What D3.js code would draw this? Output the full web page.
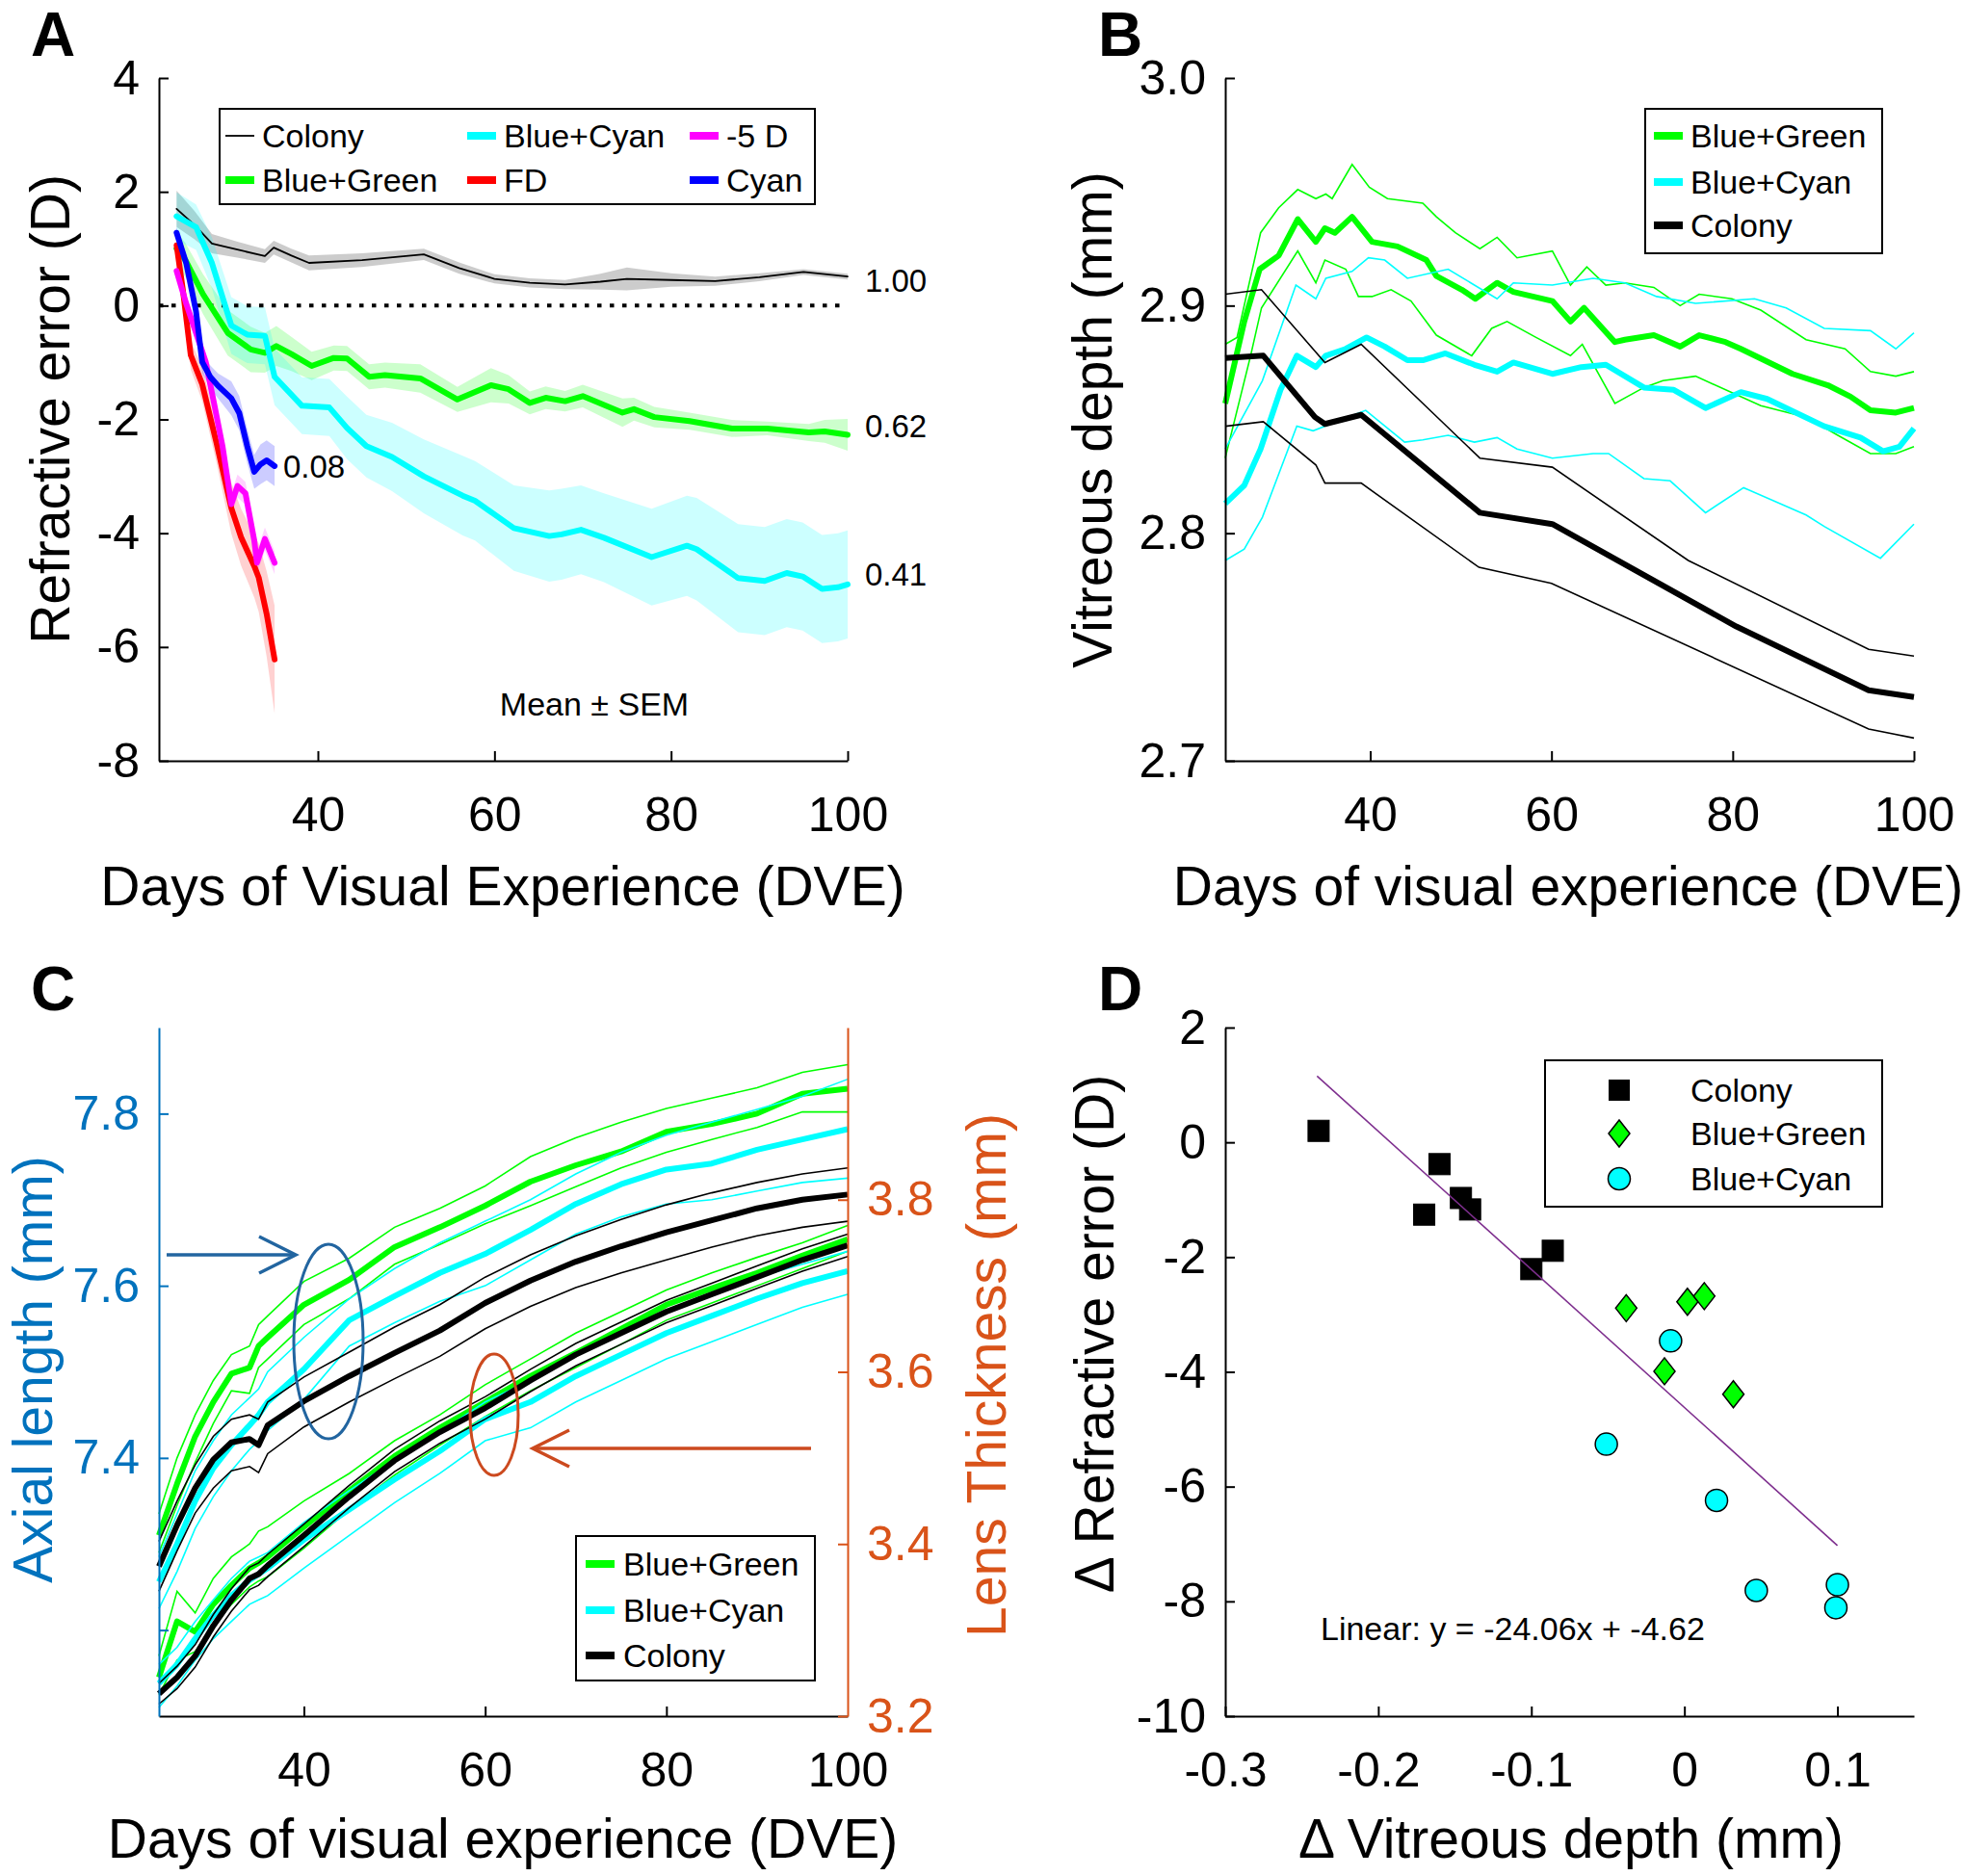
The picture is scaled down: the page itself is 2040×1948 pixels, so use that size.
<!DOCTYPE html>
<html><head><meta charset="utf-8">
<script src="https://cdn.jsdelivr.net/npm/d3@7"></script>
<style>body{margin:0;background:#fff}</style>
</head><body>
<script>
// ---------------- Panel A data (refractive error, D) ----------------
const aColonyDays = [24, 26, 28, 31, 34, 35, 37, 39, 45, 52, 56, 60, 64, 68, 72, 75, 80, 85, 90, 95, 100];
const aColonyMean = [1.70, 1.42, 1.09, 0.98, 0.87, 1.02, 0.88, 0.75, 0.80, 0.90, 0.66, 0.47, 0.40, 0.37, 0.42, 0.47, 0.45, 0.43, 0.50, 0.59, 0.51];
const aColonySem  = [0.32, 0.25, 0.17, 0.14, 0.12, 0.12, 0.12, 0.13, 0.12, 0.10, 0.10, 0.08, 0.08, 0.08, 0.14, 0.20, 0.12, 0.08, 0.07, 0.05, 0.05];

const aGreenDays = [24, 25, 27, 29.8, 32.4, 34, 35.3, 37, 39.3, 41.8, 43.3, 45.8, 47.6, 51.6, 55.8, 59.6, 61.6, 64, 65.8, 68, 70, 74.5, 75.8, 78.1, 82.1, 86.9, 90.9, 95.6, 97.4, 100];
const aGreenMean = [1.0, 0.80, 0.2, -0.48, -0.77, -0.83, -0.71, -0.85, -1.06, -0.92, -0.93, -1.25, -1.22, -1.28, -1.65, -1.40, -1.47, -1.71, -1.62, -1.68, -1.59, -1.88, -1.82, -1.96, -2.03, -2.16, -2.16, -2.23, -2.21, -2.27];
const aGreenSem  = [0.3, 0.3, 0.35, 0.4, 0.4, 0.35, 0.35, 0.3, 0.25, 0.22, 0.22, 0.22, 0.22, 0.25, 0.22, 0.3, 0.25, 0.2, 0.2, 0.18, 0.2, 0.25, 0.2, 0.18, 0.15, 0.15, 0.12, 0.15, 0.2, 0.28];

const aCyanDays = [24, 26.2, 28, 30.2, 32, 34, 35.1, 38.2, 41.3, 43.3, 45.5, 48.4, 52, 56.4, 57.8, 62.2, 66.2, 67.6, 69.8, 72.4, 77.8, 81.8, 82.9, 87.6, 90.6, 93.1, 94.9, 97.1, 98.9, 100];
const aCyanMean = [1.57, 1.38, 0.75, -0.35, -0.51, -0.53, -1.25, -1.76, -1.79, -2.15, -2.47, -2.66, -3.0, -3.34, -3.43, -3.91, -4.05, -4.02, -3.94, -4.08, -4.42, -4.22, -4.28, -4.79, -4.84, -4.70, -4.76, -4.98, -4.95, -4.90];
const aCyanSem  = [0.42, 0.4, 0.45, 0.5, 0.5, 0.5, 0.5, 0.5, 0.5, 0.55, 0.55, 0.6, 0.65, 0.7, 0.7, 0.75, 0.8, 0.8, 0.78, 0.78, 0.85, 0.88, 0.9, 0.95, 0.95, 0.95, 0.95, 0.95, 0.95, 0.95];

const aFdDays = [24, 24.7, 25.6, 26.9, 28.5, 30.2, 31.3, 32.8, 33.3, 34.2, 35.1];
const aFdMean = [1.06, 0.29, -0.87, -1.38, -2.40, -3.56, -4.07, -4.58, -4.78, -5.42, -6.22];
const aFdSem  = [0.15, 0.2, 0.25, 0.3, 0.35, 0.45, 0.5, 0.55, 0.6, 0.75, 0.95];

const aMinus5Days = [24, 25.1, 26.2, 27.3, 28.3, 29.2, 30.2, 30.9, 31.8, 32.8, 33.1, 34, 35.1];
const aMinus5Mean = [0.61, 0.03, -0.48, -0.99, -1.76, -2.47, -3.49, -3.17, -3.30, -4.13, -4.52, -4.10, -4.52];
const aMinus5Sem  = [0.1, 0.15, 0.15, 0.15, 0.2, 0.2, 0.2, 0.2, 0.2, 0.2, 0.2, 0.2, 0.2];

const aBlueDays = [24, 25.1, 26.2, 26.9, 27.8, 28.7, 30.2, 31.1, 32, 32.8, 33.5, 34.2, 35.1];
const aBlueMean = [1.28, 0.74, -0.10, -0.99, -1.25, -1.41, -1.63, -1.89, -2.47, -2.92, -2.79, -2.72, -2.82];
const aBlueSem  = [0.1, 0.15, 0.15, 0.2, 0.2, 0.22, 0.3, 0.3, 0.3, 0.3, 0.35, 0.35, 0.35];

const aXTicks = [40, 60, 80, 100];
const aYTicks = [-8, -6, -4, -2, 0, 2, 4];
const aLegendLabels = ["Colony", "Blue+Green", "Blue+Cyan", "FD", "-5 D", "Cyan"];
const aEndLabels = ["1.00", "0.62", "0.41", "0.08"];

// ---------------- Panel B data (vitreous depth, mm) [day, value] ----------------
const bGreenMean = [[24,2.857],[26.1,2.893],[27.8,2.916],[29.9,2.922],[32,2.938],[34,2.928],[35,2.934],[36.1,2.932],[38,2.939],[40.2,2.928],[43,2.926],[46.2,2.920],[47.3,2.913],[50.1,2.907],[51.6,2.903],[54,2.910],[55.8,2.906],[60.1,2.902],[62.1,2.893],[63.6,2.899],[67,2.884],[68.1,2.885],[71.3,2.887],[74.2,2.882],[76.3,2.887],[79.2,2.884],[80.9,2.881],[86.6,2.870],[90.5,2.865],[93,2.860],[95.2,2.854],[98,2.853],[100,2.855]];
const bGreenUpper = [[24,2.883],[25.3,2.886],[27.9,2.932],[29.9,2.943],[32,2.951],[34,2.947],[35.1,2.949],[35.8,2.947],[38,2.962],[39.9,2.952],[41.9,2.947],[45.8,2.945],[47.3,2.939],[49.4,2.932],[52.1,2.925],[54,2.930],[56.2,2.921],[60.1,2.924],[62.1,2.909],[63.9,2.917],[66,2.909],[68.1,2.910],[71.3,2.908],[74.2,2.900],[76.3,2.905],[79.9,2.903],[83.1,2.898],[88.1,2.885],[92.4,2.881],[95.2,2.871],[98,2.869],[100,2.871]];
const bGreenLower = [[24,2.833],[26.8,2.878],[28,2.899],[32,2.924],[34,2.910],[35,2.920],[37.3,2.916],[38.7,2.904],[40.2,2.904],[42.3,2.907],[44.5,2.902],[47.3,2.887],[51.2,2.878],[53.4,2.890],[55.1,2.893],[58.3,2.886],[62.1,2.878],[63.4,2.883],[67,2.857],[70.2,2.864],[72.3,2.867],[75.9,2.869],[83.1,2.856],[88.1,2.851],[91.6,2.843],[95.2,2.835],[98,2.835],[100,2.838]];
const bCyanMean = [[24,2.813],[26.1,2.821],[27.9,2.837],[30.1,2.863],[31.9,2.878],[34,2.873],[35.1,2.878],[37.3,2.881],[39.6,2.886],[41.6,2.882],[44.1,2.876],[45.8,2.876],[48.3,2.879],[51.5,2.874],[54,2.871],[55.8,2.875],[60.1,2.870],[63.3,2.873],[66,2.874],[70.2,2.864],[73.5,2.863],[77,2.855],[80.9,2.862],[83.8,2.859],[90.1,2.847],[94.1,2.842],[96.6,2.836],[98.4,2.838],[100,2.846]];
const bCyanUpper = [[24,2.837],[28.1,2.867],[31.8,2.909],[34,2.903],[35.1,2.912],[38,2.915],[39.8,2.921],[41.6,2.920],[44.1,2.912],[48.6,2.916],[54,2.903],[55.8,2.910],[60.1,2.909],[64.6,2.912],[68.1,2.910],[71.6,2.904],[75.9,2.901],[82.4,2.903],[85.9,2.899],[90.1,2.890],[95.2,2.889],[98,2.881],[100,2.888]];
const bCyanLower = [[24,2.788],[26.1,2.793],[28.1,2.807],[31.9,2.847],[33.7,2.845],[36.3,2.849],[39.5,2.854],[43.8,2.840],[45.8,2.841],[48.6,2.843],[51.5,2.840],[54,2.842],[56.2,2.837],[60.1,2.833],[64.6,2.835],[66.3,2.835],[70.2,2.824],[73.1,2.823],[77,2.809],[81.2,2.820],[88.1,2.808],[90.1,2.803],[96.3,2.789],[100,2.804]];
const bColonyMean = [[24,2.877],[28.2,2.878],[33.9,2.851],[35,2.848],[39,2.852],[52.1,2.809],[60.1,2.804],[80.4,2.759],[95,2.731],[100,2.728]];
const bColonyUpper = [[24,2.905],[28,2.907],[35,2.875],[39,2.883],[52.1,2.833],[60.1,2.829],[75.1,2.788],[95,2.749],[100,2.746]];
const bColonyLower = [[24,2.847],[28.2,2.849],[34,2.830],[35,2.822],[39,2.822],[52,2.785],[60,2.778],[95,2.714],[100,2.710]];
const bYTicks = [2.7, 2.8, 2.9, 3.0];
const groupLabels = ["Blue+Green", "Blue+Cyan", "Colony"];

// ---------------- Panel C data ----------------
const cDays = [24, 26, 28, 30, 32, 34, 35, 36, 40, 45, 50, 55, 60, 65, 70, 75, 80, 85, 90, 95, 100];
// axial length (mm), left axis
const cAxGreenMean = [7.31, 7.37, 7.425, 7.465, 7.498, 7.505, 7.53, 7.54, 7.578, 7.607, 7.645, 7.668, 7.693, 7.721, 7.74, 7.756, 7.779, 7.788, 7.80, 7.823, 7.829];
const cAxGreenUp   = [7.335, 7.40, 7.45, 7.49, 7.52, 7.53, 7.555, 7.565, 7.605, 7.632, 7.668, 7.69, 7.716, 7.75, 7.772, 7.79, 7.806, 7.818, 7.83, 7.848, 7.857];
const cAxGreenLo   = [7.29, 7.345, 7.395, 7.44, 7.478, 7.475, 7.505, 7.515, 7.555, 7.585, 7.625, 7.648, 7.672, 7.693, 7.715, 7.737, 7.755, 7.77, 7.784, 7.802, 7.802];
const cAxCyanMean  = [7.256, 7.30, 7.35, 7.388, 7.415, 7.438, 7.45, 7.465, 7.503, 7.56, 7.588, 7.615, 7.637, 7.665, 7.695, 7.718, 7.735, 7.742, 7.758, 7.77, 7.782];
const cAxCyanUp    = [7.285, 7.335, 7.385, 7.42, 7.45, 7.47, 7.48, 7.5, 7.54, 7.585, 7.62, 7.65, 7.675, 7.70, 7.73, 7.755, 7.775, 7.79, 7.805, 7.82, 7.84];
const cAxCyanLo    = [7.225, 7.268, 7.318, 7.355, 7.385, 7.41, 7.42, 7.432, 7.468, 7.53, 7.557, 7.582, 7.60, 7.63, 7.66, 7.68, 7.695, 7.70, 7.71, 7.72, 7.725];
const cAxColMean   = [7.274, 7.322, 7.365, 7.398, 7.418, 7.422, 7.415, 7.438, 7.466, 7.495, 7.522, 7.548, 7.58, 7.606, 7.628, 7.646, 7.662, 7.676, 7.69, 7.70, 7.706];
const cAxColUp     = [7.303, 7.35, 7.392, 7.425, 7.445, 7.45, 7.445, 7.465, 7.494, 7.523, 7.552, 7.578, 7.61, 7.636, 7.658, 7.677, 7.694, 7.708, 7.72, 7.73, 7.737];
const cAxColLo     = [7.245, 7.292, 7.336, 7.365, 7.385, 7.39, 7.383, 7.405, 7.436, 7.465, 7.492, 7.518, 7.55, 7.576, 7.598, 7.615, 7.63, 7.645, 7.658, 7.668, 7.675];
// lens thickness (mm), right axis
const cLeGreenMean = [3.245, 3.31, 3.298, 3.33, 3.352, 3.372, 3.378, 3.385, 3.42, 3.462, 3.502, 3.535, 3.565, 3.595, 3.622, 3.65, 3.678, 3.697, 3.715, 3.735, 3.754];
const cLeGreenUp   = [3.27, 3.345, 3.32, 3.36, 3.385, 3.40, 3.415, 3.42, 3.45, 3.482, 3.52, 3.55, 3.585, 3.615, 3.645, 3.67, 3.695, 3.715, 3.733, 3.75, 3.77];
const cLeGreenLo   = [3.225, 3.265, 3.275, 3.305, 3.33, 3.35, 3.357, 3.362, 3.395, 3.44, 3.48, 3.515, 3.548, 3.578, 3.605, 3.632, 3.66, 3.68, 3.70, 3.72, 3.74];
const cLeCyanMean  = [3.238, 3.26, 3.29, 3.317, 3.34, 3.358, 3.365, 3.372, 3.405, 3.44, 3.475, 3.508, 3.545, 3.565, 3.595, 3.62, 3.645, 3.665, 3.685, 3.703, 3.717];
const cLeCyanUp    = [3.26, 3.28, 3.31, 3.335, 3.36, 3.38, 3.385, 3.39, 3.425, 3.462, 3.497, 3.53, 3.565, 3.59, 3.62, 3.645, 3.67, 3.69, 3.71, 3.725, 3.74];
const cLeCyanLo    = [3.21, 3.235, 3.265, 3.29, 3.31, 3.33, 3.335, 3.34, 3.372, 3.41, 3.448, 3.482, 3.52, 3.535, 3.565, 3.59, 3.615, 3.635, 3.655, 3.675, 3.69];
const cLeColMean   = [3.226, 3.245, 3.27, 3.305, 3.335, 3.36, 3.365, 3.375, 3.41, 3.455, 3.497, 3.53, 3.558, 3.59, 3.62, 3.645, 3.67, 3.69, 3.71, 3.73, 3.747];
const cLeColUp     = [3.238, 3.258, 3.283, 3.318, 3.348, 3.373, 3.378, 3.388, 3.423, 3.468, 3.51, 3.543, 3.571, 3.603, 3.633, 3.658, 3.683, 3.703, 3.723, 3.743, 3.76];
const cLeColLo     = [3.214, 3.232, 3.257, 3.292, 3.322, 3.347, 3.352, 3.362, 3.397, 3.442, 3.484, 3.517, 3.545, 3.577, 3.607, 3.632, 3.657, 3.677, 3.697, 3.717, 3.734];
const cLeftTicks = [7.2, 7.4, 7.6, 7.8];
const cRightTicks = [3.2, 3.4, 3.6, 3.8];
const cXTicks = [40, 60, 80, 100];

// ---------------- Panel D data ----------------
const dColonyX = [-0.239, -0.160, -0.170, -0.146, -0.140, -0.100, -0.086];
const dColonyY = [0.20, -0.38, -1.26, -0.97, -1.17, -2.21, -1.89];
const dGreenX  = [-0.038, 0.002, 0.013, -0.013, 0.032];
const dGreenY  = [-2.89, -2.78, -2.68, -3.99, -4.39];
const dCyanX   = [-0.009, -0.051, 0.021, 0.047, 0.100, 0.099];
const dCyanY   = [-3.46, -5.26, -6.24, -7.81, -7.71, -8.11];
const dFit = {slope: -24.06, intercept: -4.62, xFrom: -0.24, xTo: 0.10};
const dXTicks = [-0.3, -0.2, -0.1, 0, 0.1];
const dYTicks = [-10, -8, -6, -4, -2, 0, 2];

// ---------------- drawing ----------------
const FONT = "Arial, 'Liberation Sans', Helvetica, sans-serif";
const C = {green:"#00ff00", cyan:"#00ffff", black:"#000000", red:"#ff0000", magenta:"#ff00ff", blue:"#0000ff",
           axBlue:"#0072bd", lensOr:"#d95319", fit:"#7e2f8e"};
const loc = d3.formatLocale({decimal:".", thousands:",", grouping:[3], currency:["",""], minus:"-"});
const fInt = loc.format("d"), f1 = loc.format(".1f");
const svg = d3.select("body").append("svg").attr("width",2040).attr("height",1948)
  .attr("font-family",FONT);
svg.append("rect").attr("width",2040).attr("height",1948).attr("fill","#fff");

const TICK = 10, TFS = 50, LFS = 57;

function styleAxis(g, color){
  g.select(".domain").attr("stroke",color).attr("stroke-width",2);
  g.selectAll(".tick line").attr("stroke",color).attr("stroke-width",2);
  g.selectAll(".tick text").attr("fill",color).attr("font-size",TFS).attr("font-family",FONT);
}
function bottomAxis(x, y0, ticks, fmt){
  const g = svg.append("g").attr("transform",`translate(0,${y0})`)
    .call(d3.axisBottom(x).tickValues(ticks).tickSizeInner(-TICK).tickSizeOuter(0).tickPadding(37).tickFormat(fmt||fInt));
  styleAxis(g,"#000"); return g;
}
function leftAxis(y, x0, ticks, fmt, color){
  const g = svg.append("g").attr("transform",`translate(${x0},0)`)
    .call(d3.axisLeft(y).tickValues(ticks).tickSizeInner(-TICK).tickSizeOuter(0).tickPadding(20).tickFormat(fmt));
  styleAxis(g,color||"#000"); return g;
}
function yLabel(text, cx, cy, color){
  svg.append("text").attr("transform",`translate(${cx},${cy}) rotate(-90)`).attr("text-anchor","middle")
    .attr("dy","0.35em").attr("font-size",LFS).attr("fill",color||"#000").text(text);
}
function xLabel(text, cx, cy){
  svg.append("text").attr("x",cx).attr("y",cy).attr("text-anchor","middle").attr("dy","0.35em")
    .attr("font-size",LFS).attr("fill","#000").text(text);
}
function panelLetter(t, x, y){
  svg.append("text").attr("x",x).attr("y",y).attr("font-size",64).attr("font-weight","bold").attr("fill","#000").text(t);
}
const zipRows = (days, mean, sem) => days.map((d,i)=>({x:d, y:mean[i], s: sem ? sem[i] : 0}));

// ===== Panel A =====
const xA = d3.scaleLinear().domain([22,100]).range([165,880]);
const yA = d3.scaleLinear().domain([-8,4]).range([790,81]);
const aSeries = [
  {rows: zipRows(aColonyDays,aColonyMean,aColonySem), col:C.black, band:"rgba(0,0,0,0.2)", w:1.8},
  {rows: zipRows(aGreenDays,aGreenMean,aGreenSem), col:C.green, band:"rgba(0,255,0,0.2)", w:6},
  {rows: zipRows(aCyanDays,aCyanMean,aCyanSem), col:C.cyan, band:"rgba(0,255,255,0.2)", w:6},
  {rows: zipRows(aFdDays,aFdMean,aFdSem), col:C.red, band:"rgba(255,0,0,0.18)", w:6},
  {rows: zipRows(aMinus5Days,aMinus5Mean,aMinus5Sem), col:C.magenta, band:"rgba(255,0,255,0.18)", w:6},
  {rows: zipRows(aBlueDays,aBlueMean,aBlueSem), col:C.blue, band:"rgba(0,0,255,0.2)", w:6}
];
const areaA = d3.area().x(d=>xA(d.x)).y0(d=>yA(d.y-d.s)).y1(d=>yA(d.y+d.s));
const lineA = d3.line().x(d=>xA(d.x)).y(d=>yA(d.y));
aSeries.forEach(s=> svg.append("path").attr("d",areaA(s.rows)).attr("fill",s.band).attr("stroke","none"));
// zero reference
svg.append("line").attr("x1",xA(22)).attr("x2",xA(100)).attr("y1",yA(0)).attr("y2",yA(0))
  .attr("stroke","#000").attr("stroke-width",4).attr("stroke-dasharray","4.5,8.5");
aSeries.forEach(s=> svg.append("path").attr("d",lineA(s.rows)).attr("fill","none").attr("stroke",s.col)
  .attr("stroke-width",s.w).attr("stroke-linejoin","round").attr("stroke-linecap","round"));
bottomAxis(xA, 790, aXTicks);
leftAxis(yA, 165, aYTicks, fInt);
yLabel("Refractive error (D)", 52, 425);
xLabel("Days of Visual Experience (DVE)", 522, 920);
panelLetter("A", 32, 58);
// end labels
const endLab = [[898, 291, aEndLabels[0]],[898, 442, aEndLabels[1]],[898, 596, aEndLabels[2]],[294, 484, aEndLabels[3]]];
endLab.forEach(e=> svg.append("text").attr("x",e[0]).attr("y",e[1]).attr("dy","0.35em").attr("font-size",33).text(e[2]));
svg.append("text").attr("x",617).attr("y",731).attr("dy","0.35em").attr("text-anchor","middle").attr("font-size",34).text("Mean \u00B1 SEM");
// legend A
svg.append("rect").attr("x",228).attr("y",113).attr("width",618).attr("height",99).attr("fill","#fff").attr("stroke","#000").attr("stroke-width",2);
const aLegPos = [[234,141],[234,187],[485,141],[485,187],[716,141],[716,187]];
const aLegCols = [C.black, C.green, C.cyan, C.red, C.magenta, C.blue];
aLegendLabels.forEach((lab,i)=>{
  const [lx,ly] = aLegPos[i];
  svg.append("line").attr("x1",lx).attr("x2",lx+30).attr("y1",ly).attr("y2",ly)
    .attr("stroke",aLegCols[i]).attr("stroke-width", i===0 ? 1.8 : 8);
  svg.append("text").attr("x",lx+38).attr("y",ly).attr("dy","0.35em").attr("font-size",34).text(lab);
});

// ===== Panel B =====
const xB = d3.scaleLinear().domain([24,100]).range([1272,1987]);
const yB = d3.scaleLinear().domain([2.7,3.0]).range([790,81]);
const lineB = d3.line().x(d=>xB(d[0])).y(d=>yB(d[1]));
const bGroups = [
  {col:C.green, mean:bGreenMean, up:bGreenUpper, lo:bGreenLower},
  {col:C.cyan, mean:bCyanMean, up:bCyanUpper, lo:bCyanLower},
  {col:C.black, mean:bColonyMean, up:bColonyUpper, lo:bColonyLower}
];
bGroups.forEach(g=>{
  [g.up,g.lo].forEach(arr=> svg.append("path").attr("d",lineB(arr)).attr("fill","none").attr("stroke",g.col).attr("stroke-width",1.6));
  svg.append("path").attr("d",lineB(g.mean)).attr("fill","none").attr("stroke",g.col).attr("stroke-width",6).attr("stroke-linejoin","round");
});
bottomAxis(xB, 790, aXTicks);
leftAxis(yB, 1272, bYTicks, f1);
yLabel("Vitreous depth (mm)", 1134, 436);
xLabel("Days of visual experience (DVE)", 1628, 920);
panelLetter("B", 1140, 58);
function groupLegend(x0,y0,w,h,rows,sx,tx){
  svg.append("rect").attr("x",x0).attr("y",y0).attr("width",w).attr("height",h).attr("fill","#fff").attr("stroke","#000").attr("stroke-width",2);
  const cols=[C.green,C.cyan,C.black];
  groupLabels.forEach((lab,i)=>{
    svg.append("line").attr("x1",sx).attr("x2",sx+30).attr("y1",rows[i]).attr("y2",rows[i]).attr("stroke",cols[i]).attr("stroke-width",8);
    svg.append("text").attr("x",tx).attr("y",rows[i]).attr("dy","0.35em").attr("font-size",34).text(lab);
  });
}
groupLegend(1708,113,246,150,[141,189,234],1717,1755);

// ===== Panel C =====
const xC = d3.scaleLinear().domain([24,100]).range([165,880]);
const yCL = d3.scaleLinear().domain([7.1,7.9]).range([1782,1067]);
const yCR = d3.scaleLinear().domain([3.2,4.0]).range([1782,1067]);
const cGroups = [
  {col:C.green, ax:[cAxGreenMean,cAxGreenUp,cAxGreenLo], le:[cLeGreenMean,cLeGreenUp,cLeGreenLo]},
  {col:C.cyan, ax:[cAxCyanMean,cAxCyanUp,cAxCyanLo], le:[cLeCyanMean,cLeCyanUp,cLeCyanLo]},
  {col:C.black, ax:[cAxColMean,cAxColUp,cAxColLo], le:[cLeColMean,cLeColUp,cLeColLo]}
];
const lineCL = d3.line().x(d=>xC(d.x)).y(d=>yCL(d.y));
const lineCR = d3.line().x(d=>xC(d.x)).y(d=>yCR(d.y));
cGroups.forEach(g=>{
  [1,2].forEach(k=>{
    svg.append("path").attr("d",lineCL(zipRows(cDays,g.ax[k]))).attr("fill","none").attr("stroke",g.col).attr("stroke-width",1.6);
    svg.append("path").attr("d",lineCR(zipRows(cDays,g.le[k]))).attr("fill","none").attr("stroke",g.col).attr("stroke-width",1.6);
  });
  svg.append("path").attr("d",lineCL(zipRows(cDays,g.ax[0]))).attr("fill","none").attr("stroke",g.col).attr("stroke-width",6).attr("stroke-linejoin","round");
  svg.append("path").attr("d",lineCR(zipRows(cDays,g.le[0]))).attr("fill","none").attr("stroke",g.col).attr("stroke-width",6).attr("stroke-linejoin","round");
});
{
  const g = bottomAxis(xC, 1782, cXTicks);
  g.selectAll(".tick").filter(d=>d===100).select("line").remove();
}
leftAxis(yCL, 165, cLeftTicks, (d,i)=> i===0 ? "" : f1(d), C.axBlue);
{
  const g = svg.append("g").attr("transform","translate(880,0)")
    .call(d3.axisRight(yCR).tickValues(cRightTicks).tickSizeInner(-TICK).tickSizeOuter(0).tickPadding(20).tickFormat(f1));
  styleAxis(g, C.lensOr);
}
yLabel("Axial length (mm)", 34, 1422, C.axBlue);
yLabel("Lens Thickness (mm)", 1024, 1428, C.lensOr);
xLabel("Days of visual experience (DVE)", 522, 1909);
panelLetter("C", 32, 1049);
// annotations: arrows + ellipses
const arrowBlue = "#2265a0", arrowOr = "#cc4a1f";
svg.append("line").attr("x1",173).attr("x2",307).attr("y1",1303).attr("y2",1303).attr("stroke",arrowBlue).attr("stroke-width",3.5);
svg.append("path").attr("d","M269,1284 L307,1303 L269,1322").attr("fill","none").attr("stroke",arrowBlue).attr("stroke-width",3.5);
svg.append("ellipse").attr("cx",341).attr("cy",1393).attr("rx",36).attr("ry",101).attr("fill","none").attr("stroke",arrowBlue).attr("stroke-width",3);
svg.append("line").attr("x1",842).attr("x2",553).attr("y1",1504).attr("y2",1504).attr("stroke",arrowOr).attr("stroke-width",3.5);
svg.append("path").attr("d","M591,1485 L553,1504 L591,1523").attr("fill","none").attr("stroke",arrowOr).attr("stroke-width",3.5);
svg.append("ellipse").attr("cx",513).attr("cy",1469).attr("rx",25).attr("ry",63).attr("fill","none").attr("stroke",arrowOr).attr("stroke-width",3);
groupLegend(598,1595,248,150,[1624,1672,1719],608,647);

// ===== Panel D =====
const xD = d3.scaleLinear().domain([-0.3,0.15]).range([1272,1987]);
const yD = d3.scaleLinear().domain([-10,2]).range([1782,1067]);
const sq = 22;
dColonyX.forEach((x,i)=> svg.append("rect").attr("x",xD(x)-sq/2).attr("y",yD(dColonyY[i])-sq/2).attr("width",sq).attr("height",sq).attr("fill","#000").attr("stroke","#000").attr("stroke-width",1));
const diamond = (cx,cy)=>`M${cx},${cy-14} L${cx+11},${cy} L${cx},${cy+14} L${cx-11},${cy} Z`;
dGreenX.forEach((x,i)=> svg.append("path").attr("d",diamond(xD(x),yD(dGreenY[i]))).attr("fill",C.green).attr("stroke","#000").attr("stroke-width",1.5));
dCyanX.forEach((x,i)=> svg.append("circle").attr("cx",xD(x)).attr("cy",yD(dCyanY[i])).attr("r",11.5).attr("fill",C.cyan).attr("stroke","#000").attr("stroke-width",1.5));
svg.append("line").attr("x1",xD(dFit.xFrom)).attr("y1",yD(dFit.slope*dFit.xFrom+dFit.intercept))
  .attr("x2",xD(dFit.xTo)).attr("y2",yD(dFit.slope*dFit.xTo+dFit.intercept)).attr("stroke",C.fit).attr("stroke-width",1.6);
bottomAxis(xD, 1782, dXTicks, d=> d===0 ? "0" : f1(d));
leftAxis(yD, 1272, dYTicks, fInt);
yLabel("\u0394 Refractive error (D)", 1136, 1385);
xLabel("\u0394 Vitreous depth (mm)", 1631, 1909);
panelLetter("D", 1140, 1049);
svg.append("text").attr("x",1371).attr("y",1691).attr("dy","0.35em").attr("font-size",34).text("Linear: y = -24.06x + -4.62");
// legend D
svg.append("rect").attr("x",1604).attr("y",1101).attr("width",350).attr("height",152).attr("fill","#fff").attr("stroke","#000").attr("stroke-width",2);
svg.append("rect").attr("x",1681-sq/2).attr("y",1132-sq/2).attr("width",sq).attr("height",sq).attr("fill","#000");
svg.append("path").attr("d",diamond(1681,1177)).attr("fill",C.green).attr("stroke","#000").attr("stroke-width",1.5);
svg.append("circle").attr("cx",1681).attr("cy",1224).attr("r",11.5).attr("fill",C.cyan).attr("stroke","#000").attr("stroke-width",1.5);
[["Colony",1132],["Blue+Green",1177],["Blue+Cyan",1224]].forEach(t=>
  svg.append("text").attr("x",1755).attr("y",t[1]).attr("dy","0.35em").attr("font-size",34).text(t[0]));
</script>
</body></html>
